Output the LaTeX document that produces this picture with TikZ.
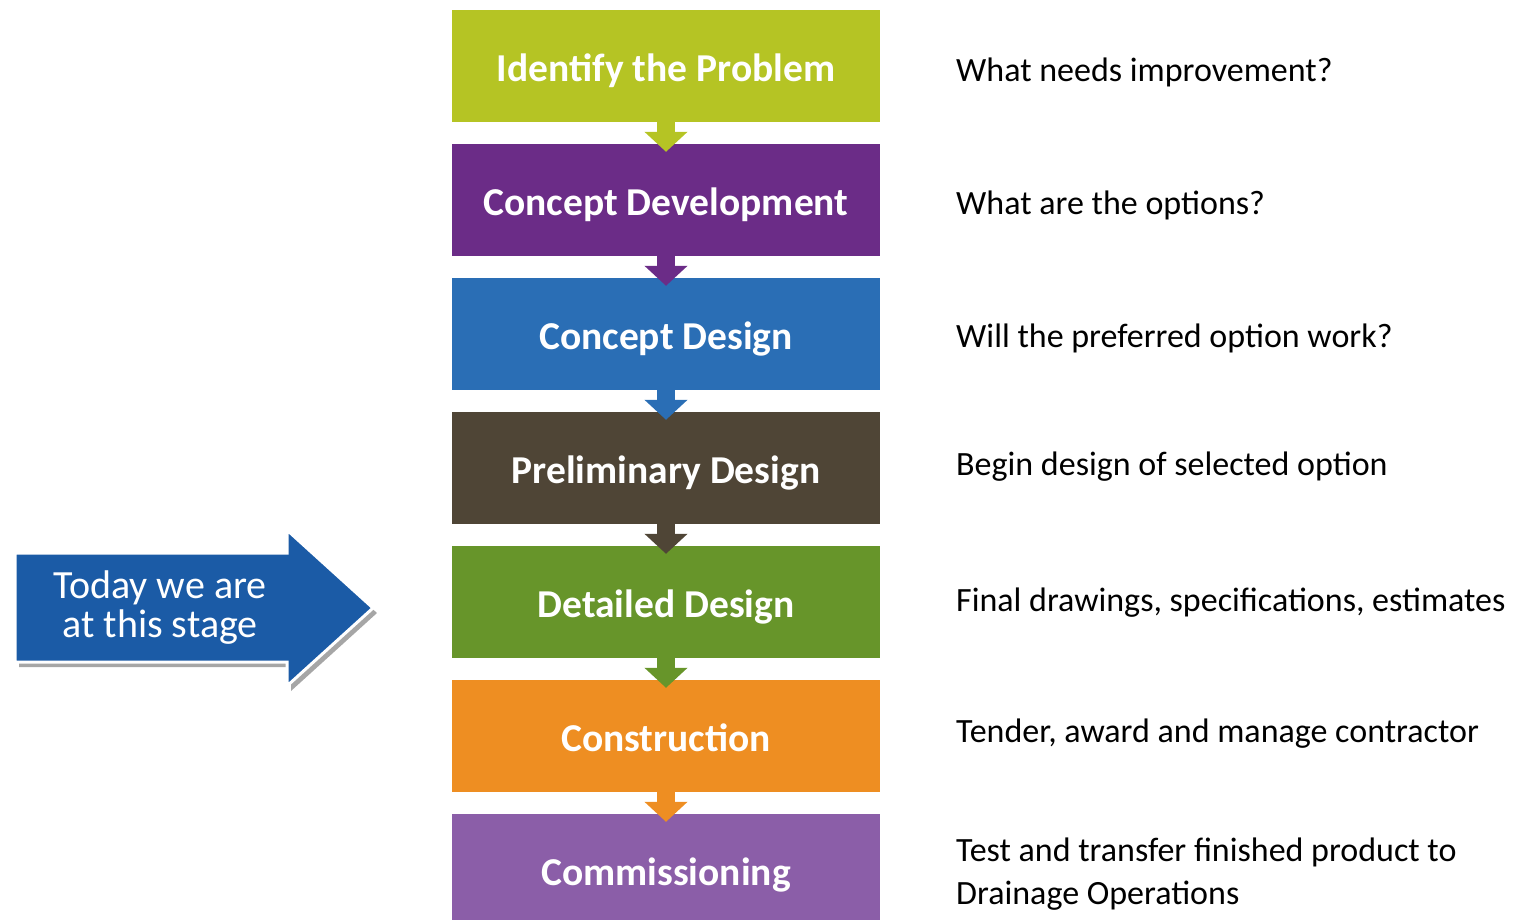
\documentclass[tikz,border=0pt]{standalone}
\usepackage{fontspec}
\setmainfont{Carlito}
\usetikzlibrary{arrows.meta,positioning}
\definecolor{probcol}{RGB}{181,196,36}
\definecolor{cdevcol}{RGB}{107,44,135}
\definecolor{cdescol}{RGB}{42,110,181}
\definecolor{prelcol}{RGB}{79,69,54}
\definecolor{detcol}{RGB}{103,149,42}
\definecolor{conscol}{RGB}{238,142,34}
\definecolor{commcol}{RGB}{139,94,168}
\definecolor{todaycol}{RGB}{27,91,166}
\tikzset{
  stage/.style={fill=#1, minimum width=428pt, minimum height=112pt, inner sep=0pt,
    text height=31pt, text depth=0pt,
    text=white, font=\fontsize{39.5}{44}\selectfont\bfseries},
  flow/.style={draw=#1, line width=18pt, -{Triangle[width=42pt,length=20pt]}},
  note/.style={anchor=west, inner sep=0pt, align=left,
    font=\fontsize{34}{43}\selectfont}
}
\begin{document}
\begin{tikzpicture}[x=1pt,y=-1pt]
      \useasboundingbox (0,0) rectangle (1515,920);
      % stages
      \foreach \N/\C/\T [count=\i] in {prob/probcol/Identify the Problem,
          cdev/cdevcol/Concept Development, cdes/cdescol/Concept Design,
          prel/prelcol/Preliminary Design, det/detcol/Detailed Design,
          cons/conscol/Construction, comm/commcol/Commissioning}{
        \node[stage=\C] (\N) at (666,{66+134*(\i-1)}) {\T};
      }
      \foreach \A/\B/\C in {prob/cdev/probcol, cdev/cdes/cdevcol, cdes/prel/cdescol,
          prel/det/prelcol, det/cons/detcol, cons/comm/conscol}{
        \draw[flow=\C] (\A.south) -- ([yshift=-8pt]\B.north);
      }
      % questions
      \node[note] (qprob) at (956,72) {What needs improvement?};
      \node[note] (qcdev) at (956,205) {What are the options?};
      \node[note] (qcdes) at (956,338) {Will the preferred option work?};
      \node[note] (qprel) at (956,467) {Begin design of selected option};
      \node[note] (qdet) at (956,603) {Final drawings, specifications, estimates};
      \node[note] (qcons) at (956,734) {Tender, award and manage contractor};
      \node[note] (qcomm) at (956,874) {Test and transfer finished product to\\Drainage Operations};
      % today arrow
      \fill[black!35] (19,558) -- (291,558) -- (291,536) -- (377,613) -- (291,691) -- (291,667) -- (19,667) -- cycle;
      \draw[white, line width=3pt, fill=todaycol] (15,553) -- (287,553) -- (287,530) -- (373,608) -- (287,686) -- (287,662) -- (15,662) -- cycle;
      \node[text=white, align=center, font=\fontsize{40}{39}\selectfont] (today) at (160,608) {Today we are\\at this stage};
    \end{tikzpicture}
\end{document}
